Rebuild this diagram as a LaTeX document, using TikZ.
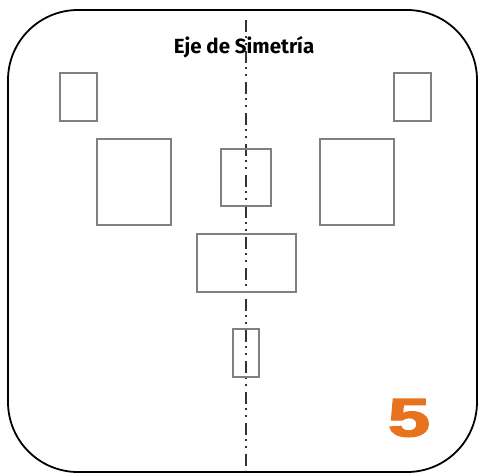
\documentclass[tikz,border=0pt]{standalone}
\usepackage{fontspec}
\setmainfont{Liberation Sans}
\newfontfamily\titlefont{Fira Sans}
\newfontfamily\fivefont[FakeBold=2.5]{Liberation Sans Bold}
\definecolor{orangefive}{HTML}{E8731E}
\tikzset{
  shapebox/.style={draw=black!50, line width=1.2pt},
  frame/.style={draw=black, line width=1.8pt, rounded corners=70pt},
  axisline/.style={draw=black!80, line width=1.6pt, dash pattern=on 12pt off 4pt on 2pt off 5pt on 2pt off 6pt}
}
\begin{document}
\begin{tikzpicture}[x=1pt,y=-1pt]
\useasboundingbox (0,0) rectangle (480,475);
\draw[frame] (8,10) rectangle (477,472);
\coordinate (axtop) at (246,20);
\coordinate (axbot) at (246,470);
\draw[axisline] (axtop) -- (axbot);
\node (title) at (244,47) {\titlefont\bfseries\fontsize{20.5}{20.5}\selectfont Eje de Simetría};
\draw[shapebox] (60,73) rectangle (97,121) node[inner sep=0, pos=0.5] (sl) {};
\draw[shapebox] (394,73) rectangle (431,121) node[inner sep=0, pos=0.5] (sr) {};
\draw[shapebox] (97,139) rectangle (171,225) node[inner sep=0, pos=0.5] (bl) {};
\draw[shapebox] (320,139) rectangle (394,225) node[inner sep=0, pos=0.5] (br) {};
\draw[shapebox] (221,149) rectangle (271,206) node[inner sep=0, pos=0.5] (ct) {};
\draw[shapebox] (197,234) rectangle (296,292) node[inner sep=0, pos=0.5] (cw) {};
\draw[shapebox] (233,329) rectangle (259,377) node[inner sep=0, pos=0.5] (cs) {};
\node[text=orangefive, inner sep=0, xscale=1.4] (five) at (409,418) {\fivefont\fontsize{54}{54}\selectfont 5};
\end{tikzpicture}
\end{document}
